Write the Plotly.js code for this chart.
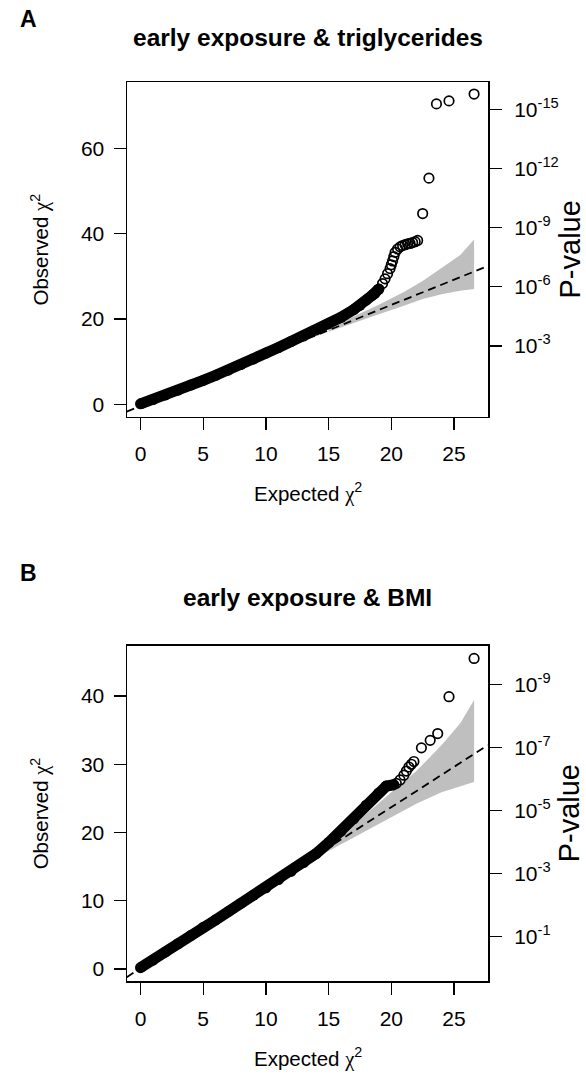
<!DOCTYPE html>
<html>
<head>
<meta charset="utf-8">
<script src="https://cdn.plot.ly/plotly-3.0.1.min.js"></script>
<style>html,body{margin:0;padding:0;background:#fff;}#plot{width:586px;height:1077px;}</style>
</head>
<body>
<div id="plot"></div>
<script>
// ---------- Data ----------
// Panel A: early exposure & triglycerides
const aBandE = [0, 1, 2, 3, 4, 5, 6, 7, 8, 9, 10, 11, 12, 13, 14, 15, 16, 17, 17.5, 18, 18.5, 19];
const aBandO = [0.1, 1.1, 2.2, 3.3, 4.5, 5.6, 6.8, 8.0, 9.3, 10.6, 12.0, 13.3, 14.7, 16.0, 17.4, 18.9, 20.4, 22.2, 23.2, 24.4, 25.6, 27.0];
const aPointE = [18.7, 19.0, 19.3, 19.5, 19.7, 19.9, 20.0, 20.1, 20.2, 20.3, 20.5, 20.7, 20.9, 21.1, 21.3, 21.5, 21.7, 21.9, 22.1, 22.5, 23.0, 23.6, 24.6, 26.6];
const aPointO = [26.0, 27.0, 28.3, 29.4, 30.6, 31.8, 32.7, 33.6, 34.6, 35.6, 36.4, 36.9, 37.2, 37.4, 37.6, 37.7, 37.9, 38.1, 38.4, 44.7, 53.0, 70.4, 71.1, 72.7];
const aCiE  = [15, 17, 19, 21, 22.5, 24, 25.5, 26.6];
const aCiLo = [17.0, 19.1, 21.1, 23.1, 24.7, 25.8, 26.6, 27.0];
const aCiHi = [17.8, 20.6, 23.3, 26.3, 28.9, 32.0, 35.0, 38.6];
const aDashE = [-1.1, 27.7];
const aDashO = [-1.7, 32.4];

// Panel B: early exposure & BMI
const bBandE = [0, 1, 2, 3, 4, 5, 6, 7, 8, 9, 10, 11, 12, 13, 14, 15, 16, 17, 18, 19, 19.6, 20.2];
const bBandO = [0.2, 1.3, 2.5, 3.7, 4.9, 6.1, 7.2, 8.4, 9.6, 10.8, 11.9, 13.1, 14.3, 15.6, 16.9, 18.5, 20.2, 22.0, 24.0, 25.8, 26.8, 27.0];
const bPointE = [20.4, 20.7, 21.0, 21.2, 21.4, 21.6, 21.8, 22.4, 23.1, 23.7, 24.6, 26.6];
const bPointO = [27.2, 27.7, 28.4, 29.0, 29.6, 30.0, 30.4, 32.4, 33.5, 34.5, 39.9, 45.5];
const bCiE  = [14, 16, 18, 20, 22, 24, 25.5, 26.6];
const bCiLo = [16.3, 18.3, 20.3, 22.3, 24.2, 25.9, 26.8, 27.4];
const bCiHi = [17.1, 19.9, 22.7, 25.9, 29.0, 32.8, 36.0, 39.4];
const bDashE = [-1.1, 27.7];
const bDashO = [-1.2, 32.8];

// Ticks
const xTicks = [0, 5, 10, 15, 20, 25];
const aYTicks = [0, 20, 40, 60];
const bYTicks = [0, 10, 20, 30, 40];
const aPExp = [3, 6, 9, 12, 15];
const bPExp = [1, 3, 5, 7, 9];

// Text
const panelLabels = ['A', 'B'];
const panelTitles = ['early exposure &amp; triglycerides', 'early exposure &amp; BMI'];

// ---------- Layout helpers ----------
const W = 586, H = 1077;
const SANS = 'Liberation Sans, Arial, Helvetica, sans-serif';
const chi = '<span style="font-family:Liberation Serif, serif">\u03C7</span><sup>2</sup>';
const fx = p => p / W;
const fy = p => 1 - p / H;

function ciTrace(E, lo, hi, xa, ya) {
  return {x: E.concat(E.slice().reverse()), y: lo.concat(hi.slice().reverse()),
    xaxis: xa, yaxis: ya, type: 'scatter', mode: 'lines', fill: 'toself',
    fillcolor: '#bfbfbf', line: {width: 0, color: '#bfbfbf'}, hoverinfo: 'skip', showlegend: false};
}
function dashTrace(E, O, xa, ya) {
  return {x: E, y: O, xaxis: xa, yaxis: ya, type: 'scatter', mode: 'lines',
    line: {color: '#000', width: 1.8, dash: '8px,5px'}, showlegend: false};
}
function bandTrace(E, O, xa, ya) {
  return {x: E, y: O, xaxis: xa, yaxis: ya, type: 'scatter', mode: 'lines+markers',
    line: {color: '#000', width: 11}, marker: {color: '#000', size: 11, symbol: 'circle'}, showlegend: false};
}
function pointTrace(E, O, xa, ya) {
  return {x: E, y: O, xaxis: xa, yaxis: ya, type: 'scatter', mode: 'markers',
    marker: {symbol: 'circle-open', size: 9.5, color: '#000', line: {color: '#000', width: 1.7}}, showlegend: false};
}
// invisible trace so that the right-hand P-value axis is drawn
function pAxisHolder(E, P, xa, ya) {
  return {x: [E[0]], y: [P[0]], xaxis: xa, yaxis: ya, type: 'scatter', mode: 'markers',
    marker: {opacity: 0, size: 1}, hoverinfo: 'skip', showlegend: false};
}

const traces = [
  ciTrace(aCiE, aCiLo, aCiHi, 'x', 'y'),
  dashTrace(aDashE, aDashO, 'x', 'y'),
  bandTrace(aBandE, aBandO, 'x', 'y'),
  pointTrace(aPointE, aPointO, 'x', 'y'),
  pAxisHolder(aBandE, aPExp, 'x', 'y2'),
  ciTrace(bCiE, bCiLo, bCiHi, 'x2', 'y3'),
  dashTrace(bDashE, bDashO, 'x2', 'y3'),
  bandTrace(bBandE, bBandO, 'x2', 'y3'),
  pointTrace(bPointE, bPointO, 'x2', 'y3'),
  pAxisHolder(bBandE, bPExp, 'x2', 'y4'),
];

const tickFont = {family: SANS, size: 21, color: '#000'};
const xDom = [fx(127), fx(488)];
const aDom = [fy(416.7), fy(82.3)];
const bDom = [fy(981), fy(645.7)];

function xAxis(anchor) {
  return {domain: xDom, anchor: anchor, range: [-1.077, 27.71], tickvals: xTicks,
    ticktext: xTicks.map(String), ticks: 'outside', ticklen: 12, tickwidth: 1.4, tickcolor: '#000',
    showline: true, mirror: true, linecolor: '#000', linewidth: 1.5, showgrid: false, zeroline: false,
    tickfont: tickFont, ticklabelstandoff: 6, fixedrange: true};
}
function yAxis(anchor, dom, range, vals) {
  return {domain: dom, anchor: anchor, range: range, tickvals: vals, ticktext: vals.map(String),
    ticks: 'outside', ticklen: 12, tickwidth: 1.4, tickcolor: '#000',
    showline: true, mirror: true, linecolor: '#000', linewidth: 1.5, showgrid: false, zeroline: false,
    tickfont: tickFont, ticklabelstandoff: 5, fixedrange: true};
}
function pAxis(overlay, anchor, range, exps) {
  return {overlaying: overlay, anchor: anchor, side: 'right', range: range, tickvals: exps,
    ticktext: exps.map(e => '10<sup>-' + e + '</sup>'), ticks: 'outside', ticklen: 13, tickwidth: 1.4,
    tickcolor: '#000', showline: false, showgrid: false, zeroline: false, tickfont: tickFont,
    ticklabelstandoff: 8, fixedrange: true};
}

const ann = [];
const labelY = [19, 573];
const titleY = [37.5, 597];
[0, 1].forEach(i => {
  const plotTop = i === 0 ? 82.3 : 645.7;
  const plotBot = i === 0 ? 416.7 : 981;
  const cy = (plotTop + plotBot) / 2;
  ann.push({text: panelLabels[i], x: fx(28), y: fy(labelY[i]), xref: 'paper', yref: 'paper',
    xanchor: 'center', yanchor: 'middle', showarrow: false,
    font: {family: SANS, size: 23, color: '#000', weight: 'bold'}});
  ann.push({text: panelTitles[i], x: fx(307.5), y: fy(titleY[i]), xref: 'paper', yref: 'paper',
    xanchor: 'center', yanchor: 'middle', showarrow: false,
    font: {family: SANS, size: 24.5, color: '#000', weight: 'bold'}});
  ann.push({text: 'Observed ' + chi, x: fx(40), y: fy(cy), xref: 'paper', yref: 'paper',
    xanchor: 'center', yanchor: 'middle', textangle: -90, showarrow: false,
    font: {family: SANS, size: 20.5, color: '#000'}});
  ann.push({text: 'Expected ' + chi, x: fx(307.5), y: fy(plotBot + 76), xref: 'paper', yref: 'paper',
    xanchor: 'center', yanchor: 'middle', showarrow: false,
    font: {family: SANS, size: 20.5, color: '#000'}});
  ann.push({text: 'P-value', x: fx(569), y: fy(cy), xref: 'paper', yref: 'paper',
    xanchor: 'center', yanchor: 'middle', textangle: -90, showarrow: false,
    font: {family: SANS, size: 29, color: '#000'}});
});

const layout = {
  width: W, height: H, margin: {l: 0, r: 0, t: 0, b: 0},
  paper_bgcolor: '#fff', plot_bgcolor: '#fff', showlegend: false,
  xaxis: xAxis('y'),
  yaxis: yAxis('x', aDom, [-2.906, 75.46], aYTicks),
  yaxis2: pAxis('y', 'x', [-0.598, 16.385], aPExp),
  xaxis2: xAxis('y3'),
  yaxis3: yAxis('x2', bDom, [-1.758, 47.37], bYTicks),
  yaxis4: pAxis('y3', 'x2', [-0.404, 10.22], bPExp),
  annotations: ann
};

Plotly.newPlot('plot', traces, layout, {staticPlot: true, displayModeBar: false});
</script>
</body>
</html>
